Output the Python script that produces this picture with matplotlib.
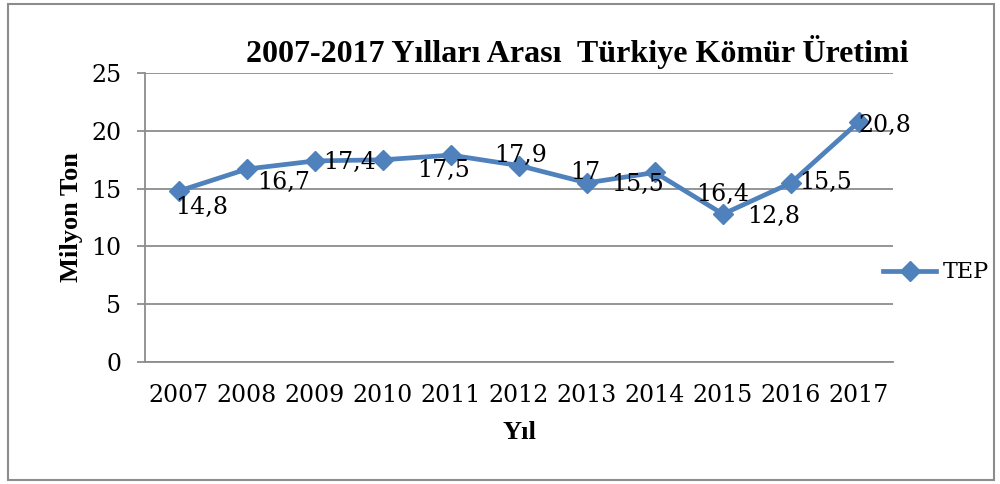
import matplotlib
matplotlib.use("Agg")
import matplotlib.pyplot as plt
from matplotlib.patches import Rectangle

years = ["2007", "2008", "2009", "2010", "2011", "2012", "2013", "2014", "2015", "2016", "2017"]
tep = [14.8, 16.7, 17.4, 17.5, 17.9, 17.0, 15.5, 16.4, 12.8, 15.5, 20.8]
labels = ["14,8", "16,7", "17,4", "17,5", "17,9", "17", "15,5", "16,4", "12,8", "15,5", "20,8"]

# label offsets in pixels (dx right, dy up) as they sit in the original
label_off = [(23, -16), (37, -13), (35, -2), (61, -11), (70, 0), (66, -7),
             (51, -2), (68, -22), (51, -2), (35, 0), (26, -4)]

blue = "#4F81BD"
grey = "#8C8C8C"

fig = plt.figure(figsize=(10, 4.84), dpi=100)
ax = fig.add_axes([0.145, 0.252, 0.748, 0.597])

x = list(range(len(years)))
ax.plot(x, tep, color=blue, lw=3.4, marker="D", markersize=10.5, label="TEP", zorder=3)

for i, (v, s) in enumerate(zip(tep, labels)):
    dx, dy = label_off[i]
    ax.annotate(s, (i, v), xytext=(dx * 0.72, dy * 0.72), textcoords="offset points",
                ha="center", va="center", fontsize=17, family="DejaVu Serif", zorder=4)

ax.set_xlim(-0.5, len(years) - 0.5)
ax.set_ylim(0, 25)
ax.set_yticks([0, 5, 10, 15, 20, 25])
ax.set_xticks(x)
ax.set_xticklabels(years)
ax.yaxis.grid(True, color=grey, lw=1.3)
ax.set_axisbelow(True)

for side in ["top", "right"]:
    ax.spines[side].set_visible(False)
for side in ["left", "bottom"]:
    ax.spines[side].set_color(grey)
    ax.spines[side].set_linewidth(1.3)

ax.tick_params(axis="y", length=6, color=grey, width=1.3, pad=11, labelsize=17)
ax.tick_params(axis="x", length=0, pad=16, labelsize=17)
for t in ax.get_xticklabels() + ax.get_yticklabels():
    t.set_family("DejaVu Serif")

ax.set_ylabel("Milyon Ton", family="Liberation Serif", fontweight="bold", fontsize=19, labelpad=6)
ax.set_xlabel("Yıl", family="Liberation Serif", fontweight="bold", fontsize=19, labelpad=10)
fig.text(0.577, 0.892, "2007-2017 Yılları Arası  Türkiye Kömür Üretimi", ha="center", va="center",
         family="Liberation Serif", fontweight="bold", fontsize=23)

leg = ax.legend(loc="center left", bbox_to_anchor=(0.96, 0.31), frameon=False,
                prop={"family": "DejaVu Serif", "size": 16}, handlelength=2.4,
                handletextpad=0.3)

fig.add_artist(Rectangle((0.008, 0.008), 0.986, 0.984, transform=fig.transFigure,
                         fill=False, edgecolor=grey, lw=1.5))

fig.savefig("out.png", dpi=100)
